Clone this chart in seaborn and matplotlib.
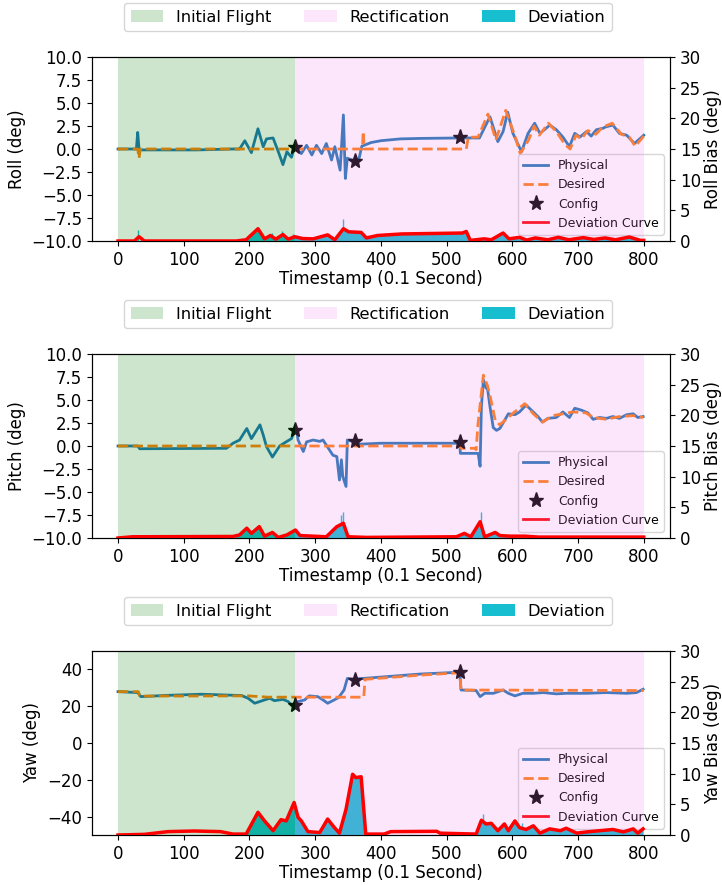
import numpy as np
import pandas as pd
import seaborn as sns
import matplotlib.pyplot as plt
from matplotlib.patches import Patch
from matplotlib.lines import Line2D

# ---------------- Roll ----------------
roll_t = [0, 28, 30, 32, 34, 120, 175, 185, 193, 203, 213, 221, 226, 236, 244, 251, 257, 264, 269,
          272, 279, 287, 295, 302, 310, 317, 325, 330, 338, 343, 346, 349, 356, 366, 371, 385, 400,
          430, 460, 520, 550, 566, 578, 586, 593, 601, 614, 624, 634, 642, 649, 657, 667, 677, 687,
          695, 703, 713, 720, 728, 738, 742, 753, 763, 774, 786, 800]
roll_phys = [0.0, 0.0, 1.8, 0.0, -0.1, -0.1, 0.0, 0.0, 0.9, -0.4, 2.2, 0.25, 1.1, 1.2, -0.3, -1.7, -0.3,
             -0.9, 0.3, 0.0, -0.5, 0.4, -0.65, 0.4, -0.5, 0.6, -1.2, 0.25, -2.3, 3.7, -3.2, -1.0, -1.2,
             -1.3, 0.3, 0.7, 0.9, 1.1, 1.15, 1.2, 1.2, 3.5, 0.8, 1.9, 4.0, 1.7, -0.3, 1.7, 2.8, 1.7,
             2.1, 2.6, 2.1, 1.3, 0.25, 1.7, 1.3, 1.9, 1.4, 2.1, 2.25, 2.4, 2.6, 1.7, 1.5, 0.6, 1.5]
roll_des_t = [0, 30, 32, 34, 372, 373, 375, 530, 533, 548, 563, 575, 590, 605, 612, 625, 633, 641,
              655, 668, 680, 688, 697, 705, 715, 727, 738, 752, 766, 778, 787, 800]
roll_des = [0.0, 0.0, -1.0, 0.0, 0.0, 1.9, 0.0, 0.0, 1.27, 1.3, 3.8, 1.0, 4.2, 1.2, -0.5, 1.0, 2.5,
            1.5, 2.8, 1.8, 0.5, 0.0, 1.5, 1.1, 2.0, 1.6, 2.4, 2.8, 1.6, 1.3, 0.3, 1.4]
roll_cfg_t = [270, 360, 520]
roll_cfg = [0.2, -1.3, 1.3]
roll_dev_t = [0, 25, 32, 40, 180, 195, 213, 223, 232, 240, 251, 259, 269, 281, 297, 319, 330, 343,
              351, 370, 378, 395, 432, 524, 530, 536, 557, 568, 586, 595, 611, 622, 635, 654, 670,
              686, 708, 724, 741, 757, 778, 795, 800]
roll_dev_curve = [0, 0, 0.7, 0, 0, 0.2, 2.0, 0.35, 0.9, 0.3, 1.05, 0.3, 0.7, 0.4, 0.35, 1.0, 0.2,
                  2.0, 1.5, 1.4, 0.5, 0.9, 1.15, 1.3, 1.55, 0.1, 0.35, 0.2, 1.3, 0.35, 0.6, 0.15,
                  0.5, 0.2, 0.6, 0.2, 0.55, 0.25, 0.5, 0.2, 0.65, 0.1, 0.1]
roll_dev_fill = [0, 0, 0, 0, 0, 0.2, 2.0, 0.35, 0.9, 0.3, 1.05, 0.3, 0.7, 0.4, 0.35, 1.0, 0.2,
                 2.0, 1.5, 1.4, 0.5, 0.9, 1.15, 1.3, 1.55, 0.1, 0.35, 0.2, 1.3, 0.35, 0.6, 0.15,
                 0.5, 0.2, 0.6, 0.2, 0.55, 0.25, 0.5, 0.2, 0.65, 0.1, 0.1]
roll_spike_t = [31, 235, 250, 266, 342]
roll_spike = [1.8, 1.3, 1.7, 1.2, 3.6]

# ---------------- Pitch ----------------
pitch_t = [0, 30, 33, 165, 175, 185, 196, 203, 216, 221, 226, 235, 246, 257, 264, 271, 274, 282,
           287, 297, 307, 312, 322, 327, 333, 337, 340, 342, 347, 349, 358, 368, 400, 520, 521, 548,
           551, 553, 556, 560, 562, 566, 571, 576, 581, 586, 594, 604, 611, 621, 629, 639, 646, 654,
           667, 677, 687, 695, 705, 715, 723, 733, 743, 753, 763, 774, 784, 791, 799]
pitch_phys = [0.0, 0.0, -0.3, -0.25, 0.3, 0.65, 1.9, 0.8, 2.3, 1.2, -0.07, -1.2, 0.0, 0.5, 0.8, 2.1,
              0.65, -0.6, 0.45, 0.65, 0.5, 0.65, -0.45, -1.0, -1.15, -3.7, -1.5, -3.3, -4.4, 0.65,
              0.5, 0.2, 0.3, 0.3, -0.8, -0.8, -2.2, 4.3, 7.2, 6.3, 6.4, 4.3, 2.0, 1.7, 1.9, 2.5,
              3.5, 3.4, 3.7, 4.45, 3.9, 3.2, 2.6, 3.0, 3.1, 3.7, 3.1, 4.1, 3.9, 3.6, 2.9, 3.1, 3.0,
              3.2, 3.0, 3.4, 3.5, 3.1, 3.2]
pitch_des_t = [0, 520, 522, 543, 545, 548, 556, 562, 566, 574, 581, 589, 601, 619, 632, 646, 662,
               692, 712, 723, 743, 763, 784, 799]
pitch_des = [0.0, 0.0, -0.25, -0.25, -0.4, 2.5, 7.7, 6.6, 5.5, 2.8, 2.3, 2.8, 3.55, 4.6, 3.5, 2.6,
             3.3, 3.7, 3.6, 3.1, 2.9, 3.2, 3.3, 3.1]
pitch_cfg_t = [270, 360, 520]
pitch_cfg = [1.7, 0.5, 0.4]
pitch_dev_t = [0, 22, 175, 185, 196, 203, 215, 223, 235, 244, 257, 270, 277, 297, 317, 333, 343,
               350, 378, 515, 527, 537, 551, 558, 574, 581, 596, 619, 640, 800]
pitch_dev_curve = [0, 0.2, 0.25, 0.5, 1.6, 0.75, 1.85, 0.3, 0.9, 0.1, 0.5, 1.3, 0.4, 0.3, 0.2, 1.85,
                   2.4, 0.2, 0.1, 0.2, 0.75, 0.2, 2.65, 0.2, 0.9, 0.4, 0.3, 0.3, 0.15, 0.15]
pitch_dev_fill = [0, 0, 0, 0.5, 1.6, 0.75, 1.85, 0.3, 0.9, 0.1, 0.5, 1.3, 0.4, 0.3, 0.2, 1.85,
                  2.4, 0.2, 0, 0, 0.75, 0.2, 2.65, 0.2, 0.9, 0.4, 0.3, 0.3, 0.15, 0.15]
pitch_spike_t = [340, 343, 552]
pitch_spike = [3.7, 4.3, 4.3]

# ---------------- Yaw ----------------
yaw_t = [0, 30, 35, 76, 127, 188, 198, 208, 223, 231, 238, 251, 259, 268, 274, 284, 291, 304, 312,
         319, 329, 336, 344, 349, 359, 374, 461, 516, 520, 522, 545, 551, 558, 571, 586, 594, 604,
         616, 632, 647, 667, 682, 713, 743, 774, 789, 799]
yaw_phys = [27.9, 27.4, 25.2, 25.9, 26.5, 25.8, 24.3, 21.6, 23.4, 24.3, 23.0, 23.7, 22.5, 18.9,
            22.5, 23.4, 25.6, 25.2, 23.4, 21.6, 23.4, 24.8, 28.8, 35.1, 34.6, 35.1, 37.5, 38.4,
            38.7, 28.8, 28.5, 25.2, 27.0, 27.0, 28.8, 27.0, 25.6, 27.0, 27.0, 27.4, 26.7, 27.0,
            27.0, 27.4, 27.0, 27.4, 29.2]
yaw_des_t = [0, 31, 33, 198, 228, 374, 376, 461, 520, 522, 800]
yaw_des = [27.9, 27.9, 25.5, 25.6, 24.9, 24.9, 34.6, 36.9, 38.2, 28.8, 28.5]
yaw_cfg_t = [270, 360, 520]
yaw_cfg = [20.8, 34.5, 38.6]
yaw_dev_t = [0, 40, 76, 116, 156, 175, 195, 213, 223, 236, 248, 256, 268, 274, 279, 289, 307, 319,
             329, 337, 347, 357, 362, 370, 377, 405, 415, 485, 490, 545, 553, 560, 568, 578, 588,
             594, 604, 611, 621, 632, 642, 657, 673, 682, 698, 713, 733, 753, 769, 784, 791, 799]
yaw_dev_curve = [0, 0.1, 0.55, 0.65, 0.55, 0.15, 0.15, 3.7, 2.3, 0.7, 2.5, 2.3, 5.3, 2.9, 2.3,
                 0.55, 0.4, 2.6, 1.25, 0.3, 4.2, 9.9, 9.35, 9.5, 0.15, 0.15, 0.55, 0.6, 0.3, 0.15,
                 2.4, 1.8, 1.9, 0.7, 1.8, 0.7, 2.3, 1.2, 0.9, 1.5, 0.3, 1.0, 0.7, 1.1, 0.3, 0.5,
                 0.7, 0.9, 0.5, 1.0, 0.3, 1.0]
yaw_dev_fill = [0, 0, 0, 0, 0, 0, 0.15, 3.7, 2.3, 0.7, 2.5, 2.3, 5.3, 2.9, 2.3, 0.55, 0.4, 2.6,
                1.25, 0.3, 4.2, 9.9, 9.35, 9.5, 0.15, 0, 0, 0, 0, 0, 2.4, 1.8, 1.9, 0.7, 1.8, 0.7,
                2.3, 1.2, 0.9, 1.5, 0.3, 1.0, 0.7, 1.1, 0.3, 0.5, 0.7, 0.9, 0.5, 1.0, 0.3, 1.0]
yaw_spike_t = [555, 615]
yaw_spike = [3.4, 2.0]

# phases
init_end = 270
rect_end = 800

panels = [
    ("Roll (deg)", "Roll Bias (deg)", (-10, 10), np.arange(-10, 10.1, 2.5),
     roll_t, roll_phys, roll_des_t, roll_des, roll_cfg_t, roll_cfg,
     roll_dev_t, roll_dev_curve, roll_dev_fill, roll_spike_t, roll_spike),
    ("Pitch (deg)", "Pitch Bias (deg)", (-10, 10), np.arange(-10, 10.1, 2.5),
     pitch_t, pitch_phys, pitch_des_t, pitch_des, pitch_cfg_t, pitch_cfg,
     pitch_dev_t, pitch_dev_curve, pitch_dev_fill, pitch_spike_t, pitch_spike),
    ("Yaw (deg)", "Yaw Bias (deg)", (-50, 50), np.arange(-40, 41, 20),
     yaw_t, yaw_phys, yaw_des_t, yaw_des, yaw_cfg_t, yaw_cfg,
     yaw_dev_t, yaw_dev_curve, yaw_dev_fill, yaw_spike_t, yaw_spike),
]

fig, axes = plt.subplots(3, 1, figsize=(7.22, 8.85), dpi=100)
plt.subplots_adjust(left=0.127, right=0.928, top=0.9356, bottom=0.0565, hspace=0.614)

for ax, p in zip(axes, panels):
    (ylab, blab, ylim, yticks, t, phys, dt, des, ct, cv, vt, vcurve, vfill, st, sv) = p

    # physical / desired attitude
    sns.lineplot(x=t, y=phys, ax=ax, color="tab:blue", lw=2, estimator=None, sort=False)
    sns.lineplot(x=dt, y=des, ax=ax, color="tab:orange", lw=2, linestyle="--", estimator=None, sort=False)
    ax.plot(ct, cv, linestyle="none", marker="*", color="black", markersize=11)
    ax.set_ylim(*ylim)
    ax.set_yticks(yticks)
    ax.set_ylabel(ylab, fontsize=12)
    ax.set_xlabel("Timestamp (0.1 Second)", fontsize=12, labelpad=1)
    ax.set_xticks(range(0, 801, 100))
    ax.tick_params(labelsize=12)

    # deviation on twin axis
    ax2 = ax.twinx()
    ax2.fill_between(vt, vfill, 0, color="#17becf", lw=0, zorder=1)
    ax2.vlines(st, 0, sv, color="#17becf", lw=1, zorder=1)
    ax2.axvspan(0, init_end, color="green", alpha=0.2, lw=0, zorder=2)
    ax2.axvspan(init_end, rect_end, color="violet", alpha=0.2, lw=0, zorder=2)
    sns.lineplot(x=vt, y=vcurve, ax=ax2, color="red", lw=2.5, estimator=None, sort=False, zorder=3)
    ax2.set_ylim(0, 30)
    ax2.set_yticks(range(0, 31, 5))
    ax2.set_ylabel(blab, fontsize=12, labelpad=2)
    ax2.tick_params(labelsize=12)
    ax.set_xlim(-40, 840)

    handles = [Line2D([], [], color="tab:blue", lw=2, label="Physical"),
               Line2D([], [], color="tab:orange", lw=2, linestyle="--", label="Desired"),
               Line2D([], [], color="black", marker="*", linestyle="none", markersize=11, label="Config"),
               Line2D([], [], color="red", lw=2, label="Deviation Curve")]
    ax.legend(handles=handles, loc="lower right", fontsize=9)

    top = [Patch(color="green", alpha=0.2, lw=0, label="Initial Flight"),
           Patch(color="violet", alpha=0.2, lw=0, label="Rectification"),
           Patch(color="#17becf", lw=0, label="Deviation")]
    ax2.legend(handles=top, loc="center", bbox_to_anchor=(0.478, 1.217), ncol=3, fontsize=11.7)

plt.savefig("out.png", dpi=100)
